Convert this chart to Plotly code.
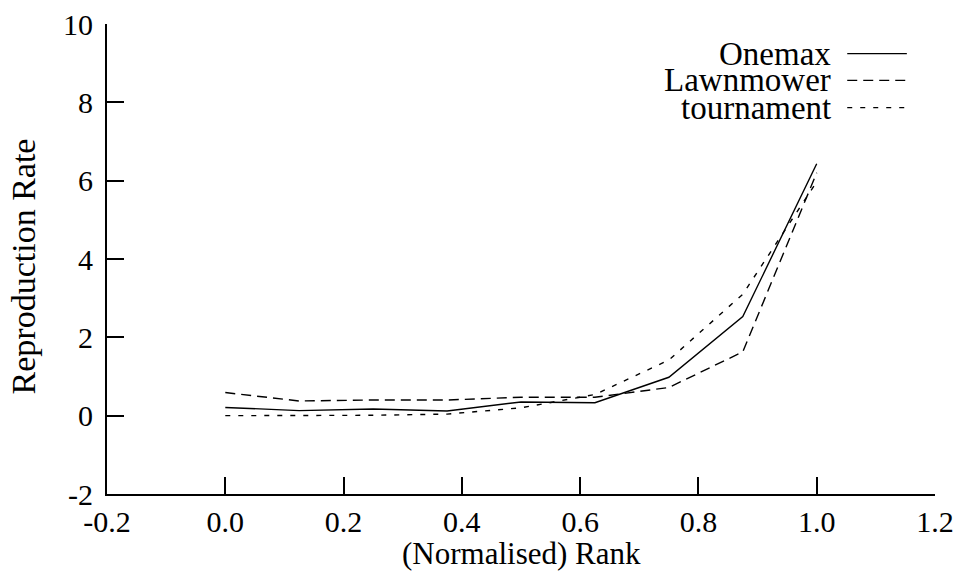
import plotly.graph_objects as go

# Normalised rank positions and reproduction rates per problem
rank = [0.0, 0.125, 0.25, 0.375, 0.5, 0.625, 0.75, 0.875, 1.0]
onemax = [0.21, 0.13, 0.17, 0.12, 0.35, 0.33, 0.98, 2.53, 6.43]
lawnmower = [0.59, 0.375, 0.40, 0.40, 0.47, 0.47, 0.72, 1.63, 6.2]
tournament = [0.0, 0.0, 0.01, 0.04, 0.2, 0.54, 1.42, 3.1, 5.97]

series_names = ["Onemax", "Lawnmower", "tournament"]
series_values = [onemax, lawnmower, tournament]
series_dash = ["solid", "10px,6px", "5px,8px"]

x_ticks = [-0.2, 0.0, 0.2, 0.4, 0.6, 0.8, 1.0, 1.2]
y_ticks = [-2, 0, 2, 4, 6, 8, 10]

FONT = "Liberation Serif, DejaVu Serif, serif"
TICK_SIZE = 30
TEXT_SIZE = 33

fig = go.Figure()
for name, vals, dash in zip(series_names, series_values, series_dash):
    fig.add_trace(go.Scatter(
        x=rank, y=vals, mode="lines", name=name, showlegend=False,
        line=dict(color="black", width=1.4, dash=dash),
    ))

# Key in the upper right: right-aligned labels with line samples after them
key_y = [0.937, 0.880, 0.822]
for name, dash, ky in zip(series_names, series_dash, key_y):
    fig.add_annotation(
        xref="paper", yref="paper", x=0.876, y=ky, text=name,
        showarrow=False, xanchor="right", yanchor="middle", borderpad=0,
        font=dict(family=FONT, size=TEXT_SIZE, color="black"),
    )
    fig.add_shape(
        type="line", xref="paper", yref="paper",
        x0=0.894, x1=0.966, y0=ky, y1=ky,
        line=dict(color="black", width=1.4, dash=dash),
    )

# Axis titles
fig.add_annotation(
    xref="paper", yref="paper", x=0.5, y=-0.1655, text="(Normalised) Rank",
    showarrow=False, xanchor="center", yanchor="bottom", borderpad=0,
    font=dict(family=FONT, size=31, color="black"),
)
fig.add_annotation(
    xref="paper", yref="paper", x=-0.101, y=0.485, text="Reproduction Rate",
    showarrow=False, xanchor="center", yanchor="middle", textangle=-90,
    borderpad=0,
    font=dict(family=FONT, size=TEXT_SIZE + 1, color="black"),
)

axis_common = dict(
    showgrid=False, zeroline=False, showline=True, linecolor="black",
    linewidth=2, ticks="inside", ticklen=17, tickwidth=2, tickcolor="black",
    tickfont=dict(family=FONT, size=TICK_SIZE, color="black"),
    automargin=False,
)

fig.update_layout(
    width=957, height=573,
    margin=dict(l=107, r=22, t=24, b=79),
    paper_bgcolor="white", plot_bgcolor="white",
    font=dict(family=FONT, size=TICK_SIZE, color="black"),
    xaxis=dict(
        range=[-0.2, 1.2], tickvals=x_ticks,
        ticktext=[f"{v:.1f}" for v in x_ticks],
        ticklabelstandoff=0,
        **axis_common,
    ),
    yaxis=dict(
        range=[-2, 10], tickvals=y_ticks,
        ticktext=[str(v) for v in y_ticks],
        ticklabelstandoff=6,
        **axis_common,
    ),
)

fig.write_html("out.html")
